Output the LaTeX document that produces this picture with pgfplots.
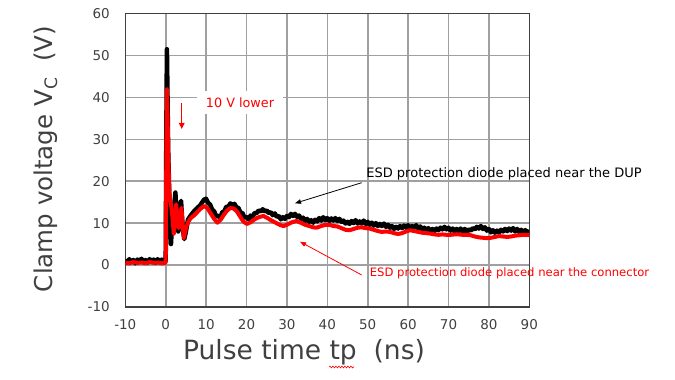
\documentclass[border=0pt]{standalone}
\usepackage{pgfplots}
\pgfplotsset{compat=1.18}
\usepackage{fontspec}
\setmainfont{DejaVu Sans}
\newfontfamily\labelfont{DejaVu Sans}
\usetikzlibrary{arrows.meta,decorations.pathmorphing}
\definecolor{gridgray}{HTML}{A0A0A0}
\definecolor{txtgray}{HTML}{404040}
\begin{document}
\begin{tikzpicture}[x=1pt,y=1pt]
\path[use as bounding box] (0,0) rectangle (675,380);
\begin{axis}[
  at={(125.3pt,73.1pt)}, anchor=south west,
  scale only axis, width=404pt, height=293.3pt,
  xmin=-10,xmax=90,ymin=-10,ymax=60,
  xtick={-10,0,...,90}, ytick={-10,0,...,60},
  grid=major, major grid style={gridgray, line width=1.6pt},
  axis line style={txtgray, line width=1.4pt},
  tick style={draw=none},
  tick label style={font=\fontsize{13.5}{15}\selectfont, text=txtgray},
  /pgf/number format/assume math mode=true,
  xticklabel style={yshift=-9pt},
  yticklabel style={xshift=-12pt},
]
\addplot[black, line width=4.5pt, line join=round] coordinates {
(-10,1.3)(-9.5,0.5)(-9,1.4)(-8.5,0.7)(-8,1.2)(-7.5,0.4)(-7,1.3)(-6.5,0.8)(-6,1.5)(-5.5,0.6)(-5,1.2)(-4.5,0.5)(-4,1.4)(-3.5,0.8)(-3,1.3)(-2.5,0.5)(-2,1.4)(-1.5,0.7)(-1,1.3)(-0.5,0.6)(0,1.0)
(0.15,30)(0.3,51.5)(0.45,40)(0.6,28)(0.8,20)(1.0,12)(1.3,5)(1.6,10)(2.0,13)(2.4,17.3)(2.7,11)(3.1,8)(3.5,14)(3.8,15.3)(4.2,9)(4.6,6.2)(5.0,8)(5.5,10.8)(6.2,11.8)(7,12.8)(7.8,13.6)(8.5,14.2)(9.5,15.6)
(10,15.8)(10.5,14.8)(11,14.4)(11.5,13.2)(12,12.8)(12.5,11.6)(13,11.8)(13.5,11.2)(14,12.6)(14.5,12.8)(15,13.9)(15.5,13.9)(16,14.7)(16.5,14.3)(17,14.6)(17.5,13.8)(18,13.6)(18.5,12.5)(19,12.4)(19.5,11.3)(20,11.5)(20.5,10.9)(21,11.8)(21.5,11.5)(22,12.4)(22.5,12.4)(23,13.0)(23.5,12.8)(24,13.3)(24.5,12.8)(25,13.0)(25.5,12.4)(26,12.6)(26.5,11.9)(27,12.3)(27.5,11.5)(28,11.7)(28.5,10.9)(29,11.4)(29.5,11.0)(30,11.7)(30.5,11.4)(31,12.2)(31.5,11.7)(32,12.2)(32.5,11.5)(33,11.8)(33.5,11.0)(34,11.3)(34.5,10.5)(35,11.0)(35.5,10.3)(36,10.7)(36.5,10.1)(37,10.8)(37.5,10.4)(38,11.2)(38.5,10.6)(39,11.4)(39.5,10.7)(40,11.2)(40.5,10.5)(41,11.1)(41.5,10.6)(42,11.2)(42.5,10.5)(43,11.0)(43.5,10.3)(44,10.6)(44.5,9.9)(45,10.3)(45.5,9.8)(46,10.5)(46.5,10.0)(47,10.7)(47.5,9.9)(48,10.4)(48.5,9.9)(49,10.6)(49.5,9.8)(50,10.3)(50.5,9.6)(51,10.1)(51.5,9.4)(52,10.0)(52.5,9.3)(53,9.8)(53.5,9.3)(54,9.9)(54.5,9.1)(55,9.6)(55.5,8.9)(56,9.3)(56.5,8.6)(57,9.1)(57.5,8.7)(58,9.3)(58.5,8.8)(59,9.4)(59.5,8.9)(60,9.5)(60.5,8.8)(61,9.3)(61.5,8.9)(62,9.5)(62.5,8.7)(63,9.2)(63.5,8.5)(64,8.9)(64.5,8.3)(65,8.8)(65.5,8.1)(66,8.6)(66.5,8.1)(67,8.7)(67.5,8.3)(68,8.9)(68.5,8.5)(69,9.1)(69.5,8.5)(70,8.9)(70.5,8.2)(71,8.7)(71.5,8.0)(72,8.6)(72.5,8.1)(73,8.7)(73.5,8.0)(74,8.6)(74.5,8.0)(75,8.5)(75.5,8.2)(76,8.8)(76.5,8.5)(77,9.1)(77.5,8.7)(78,9.3)(78.5,8.6)(79,9.0)(79.5,8.2)(80,8.6)(80.5,7.8)(81,8.3)(81.5,7.7)(82,8.2)(82.5,7.8)(83,8.4)(83.5,8.0)(84,8.6)(84.5,8.1)(85,8.7)(85.5,8.2)(86,8.8)(86.5,8.0)(87,8.6)(87.5,7.9)(88,8.4)(88.5,7.8)(89,8.3)(89.5,7.8)(90,8.2)
};
\addplot[red, line width=4pt, line join=round] coordinates {
(-10,0.6)(-9,0.4)(-8,0.7)(-7,0.5)(-6,0.6)(-5,0.4)(-4,0.7)(-3,0.5)(-2,0.6)(-1,0.4)(0,0.5)
(0.15,25)(0.3,42)(0.45,36)(0.6,28)(0.8,20)(1.0,16)(1.3,14.5)(1.6,12.2)(2.0,7.4)(2.3,11)(2.6,14.5)(2.9,11)(3.2,8.8)(3.5,11)(3.9,13.6)(4.2,9.5)(4.5,6.4)(5.0,8.8)(5.6,10.3)(6.2,11.2)(7.0,11.8)(7.8,12.6)(8.6,13.4)(9.5,14.1)
(10.3,13.6)(11.2,12.2)(12,11)(12.8,10.1)(13.6,10.8)(14.4,12)(15.2,13)(16.0,13.6)(16.8,13.5)(17.6,12.8)(18.4,11.6)(19.2,10.4)(20.1,9.8)(21,10.2)(22,10.9)(23,11.4)(24.2,11.7)(25.2,11.2)(26.2,10.6)(27.4,10)(28.4,9.5)(29.2,9.3)(30.2,9.7)(31.2,10.2)(32.4,10.5)(33.4,10.1)(34.5,9.6)(35.5,9.3)(36.5,9.0)(37.3,8.9)(38.5,9.3)(39.5,9.6)(40.5,9.6)(41.5,9.3)(42.5,9.2)(43.5,8.8)(44.5,8.4)(45.5,8.3)(46.5,8.6)(47.5,8.9)(48.5,9.0)(49.5,8.8)(50.5,8.7)(51.5,8.4)(52.5,8.1)(53.5,7.9)(54.5,8.0)(55.5,7.9)(56.5,7.6)(57.5,7.4)(58.5,7.6)(59.5,8.0)(60.5,8.3)(61.5,8.1)(62.5,7.9)(63.5,7.7)(64.5,7.6)(65.5,7.5)(66.5,7.3)(67.5,7.2)(68.5,7.3)(69.5,7.2)(70.5,7.2)(71.5,7.3)(72.5,7.3)(73.5,7.2)(74.5,7.2)(75.5,7.1)(76.5,6.8)(77.5,6.6)(78.5,6.5)(79.5,6.4)(80.5,6.5)(81.5,6.7)(82.5,6.9)(83.5,6.8)(84.5,6.7)(85.5,6.8)(86.5,7.0)(87.5,7.1)(88.5,7.2)(89.5,7.2)(90,7.2)
};
\end{axis}
% y label
\node[rotate=90, anchor=base, font=\labelfont\fontsize{24.5}{28}\selectfont, text=txtgray] at (53,221) {Clamp voltage V\textsubscript{C}\ \ (V)};
% x label
\node[anchor=base, font=\labelfont\fontsize{26.5}{30}\selectfont, text=txtgray] at (304,20) {Pulse time tp\ \ (ns)};
\draw[red, line width=0.6pt, decorate, decoration={snake, amplitude=0.9pt, segment length=3pt}] (329,13) -- (354,13);
% annotations
\node[fill=white, inner sep=0pt, minimum width=86pt, minimum height=23pt, text=red, font=\fontsize{12.8}{14}\selectfont] at (240,277) {10 V lower};
\draw[red, line width=1.3pt, -{Triangle[length=6pt,width=5.5pt]}] (181.7,277) -- (181.7,251);
\node[font=\fontsize{13}{15}\selectfont] at (504,206) {ESD protection diode placed near the DUP};
\draw[black, line width=0.8pt, -{Triangle[length=6pt,width=4.5pt]}] (361.7,197.3) -- (295,176.7);
\node[text=red, font=\fontsize{11.6}{13}\selectfont] at (509.5,107) {ESD protection diode placed near the connector};
\draw[red, line width=0.8pt, -{Triangle[length=6pt,width=4.5pt]}] (361.7,105) -- (300,138.3);
\end{tikzpicture}
\end{document}
